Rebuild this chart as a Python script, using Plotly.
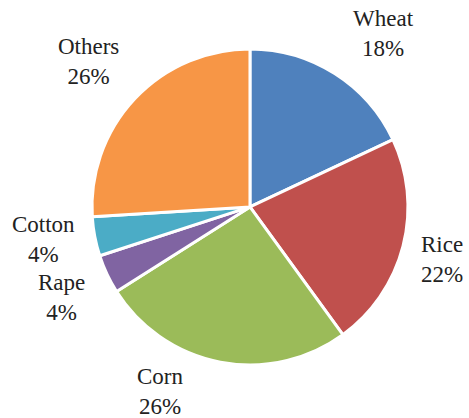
import plotly.graph_objects as go

# Data
crops = ["Wheat", "Rice", "Corn", "Rape", "Cotton", "Others"]
shares = [18, 22, 26, 4, 4, 26]
colors = ["#4F81BD", "#C0504D", "#9BBB59", "#8064A2", "#4BACC6", "#F79646"]

# Label placement (paper coords) for outside labels
label_pos = {
    "Wheat": (0.817, 0.919),
    "Rice": (0.942, 0.378),
    "Corn": (0.343, 0.064),
    "Rape": (0.132, 0.289),
    "Cotton": (0.092, 0.428),
    "Others": (0.188, 0.852),
}

fig = go.Figure(
    go.Pie(
        labels=crops,
        values=shares,
        sort=False,
        direction="clockwise",
        rotation=0,
        marker=dict(colors=colors, line=dict(color="white", width=3)),
        textinfo="none",
        hoverinfo="label+percent",
        domain=dict(x=[0.196, 0.870], y=[0.127, 0.883]),
        showlegend=False,
    )
)

total = sum(shares)
annotations = []
for name, val in zip(crops, shares):
    x, y = label_pos[name]
    annotations.append(
        dict(
            x=x, y=y, xref="paper", yref="paper",
            text=f"{name}<br>{round(100 * val / total)}%",
            showarrow=False,
            xanchor="center", yanchor="middle",
            align="center",
            font=dict(family="'Times New Roman', 'Liberation Serif', serif", size=23, color="#222222"),
        )
    )

fig.update_layout(
    width=469,
    height=418,
    margin=dict(l=0, r=0, t=0, b=0),
    paper_bgcolor="white",
    plot_bgcolor="white",
    annotations=annotations,
)

fig.write_html("out.html")
